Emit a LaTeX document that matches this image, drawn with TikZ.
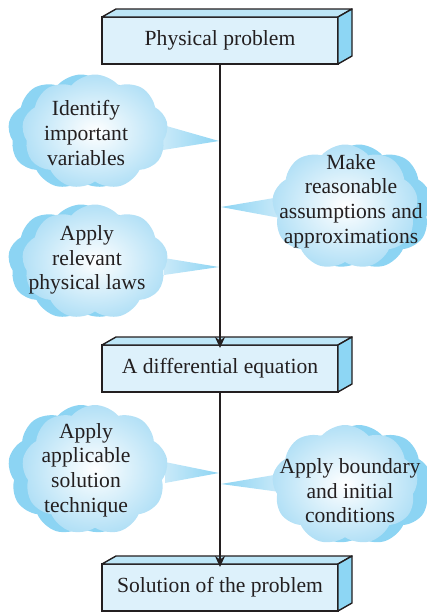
\documentclass[tikz,border=0pt]{standalone}
\usepackage{fontspec}
\setmainfont{Liberation Serif}
\usepackage{tikz}
\usetikzlibrary{arrows.meta, positioning, shapes.symbols, calc, backgrounds}

\definecolor{frontblue}{HTML}{DDF1FB}
\definecolor{topblue}{HTML}{BDE6F7}
\definecolor{sideblue}{HTML}{8DD6F4}
\definecolor{cloudblue}{HTML}{B2E0F6}
\definecolor{shadeblue}{HTML}{8CD4F3}
\definecolor{ink}{HTML}{231F20}

\tikzset{
  stage/.style={draw=ink, line width=0.7pt, fill=frontblue, minimum width=118pt,
    minimum height=23.5pt, inner sep=0pt, outer sep=0pt, text=ink,
    font=\fontsize{10.8}{12.3}\selectfont},
  face/.style={draw=ink, line width=0.7pt, line join=round},
  puff/.style={cloud, cloud puffs=9, cloud puff arc=100, cloud ignores aspect,
    minimum width=73pt, inner sep=0pt},
  cloudbody/.style={puff, inner color=white, outer color=cloudblue},
  cloudback/.style={puff, fill=shadeblue},
  note/.style={align=center, text=ink, font=\fontsize{10.8}{12.3}\selectfont},
  tailleft/.style={left color=cloudblue!70!white, right color=shadeblue},
  tailright/.style={left color=shadeblue, right color=cloudblue!70!white},
  flow/.style={-{Stealth[length=5.5pt,width=5pt]}, line width=1.1pt, draw=ink}
}

\begin{document}
\begin{tikzpicture}[x=0.5pt, y=-0.5pt]
\useasboundingbox (0,0) rectangle (427,612);

% the three stages
\node[stage] (p1) at (220,40.5) {Physical problem};
\node[stage] (p2) at (220,368.5) {A differential equation};
\node[stage] (p3) at (220,587.5) {Solution of the problem};
\foreach \b in {p1,p2,p3} {
  \filldraw[face, fill=topblue] (\b.north west) -- ++(14,-8) -- ++(236,0) -- (\b.north east) -- cycle;
  \filldraw[face, fill=sideblue] (\b.north east) -- ++(14,-8) -- ++(0,47) -- (\b.south east) -- cycle;
}
\draw[flow, shorten >=-1.5pt] (p1.south) -- (p2.north);
\draw[flow, shorten >=-1.5pt] (p2.south) -- (p3.north);

% clouds on the left
\node[cloudback, minimum height=57.5pt] (s1) at (81,132) {};
\node[cloudbody, minimum height=57.5pt] (c1) at (95,132) {};
\node[cloudback, minimum height=57.5pt] (s3) at (81,262) {};
\node[cloudbody, minimum height=57.5pt] (c3) at (95,262) {};
\node[cloudback, minimum height=65pt] (s4) at (81,470) {};
\node[cloudbody, minimum height=65pt] (c4) at (95,470) {};

% clouds on the right
\node[cloudback, minimum height=62.5pt] (s2) at (359,207) {};
\node[cloudbody, minimum height=62.5pt] (c2) at (345,207) {};
\node[cloudback, minimum height=60pt] (s5) at (359,485) {};
\node[cloudbody, minimum height=60pt] (c5) at (345,485) {};

% tails to the line
\coordinate (k1) at (219,141);
\coordinate (k3) at (219,267);
\coordinate (k4) at (219,473);
\coordinate (k2) at (221,207);
\coordinate (k5) at (221,484);
\begin{scope}[on background layer]
\shade[tailleft] (k1) -- ($(c1.center)+(68,-7)$) -- ($(c1.center)+(68,18)$) -- cycle;
\shade[tailleft] (k3) -- ($(c3.center)+(69,-4)$) -- ($(c3.center)+(69,13)$) -- cycle;
\shade[tailleft] (k4) -- ($(c4.center)+(70,-8)$) -- ($(c4.center)+(70,13)$) -- cycle;
\shade[tailright] (k2) -- ($(c2.center)+(-65,-10)$) -- ($(c2.center)+(-65,11)$) -- cycle;
\shade[tailright] (k5) -- ($(c5.center)+(-65,-11)$) -- ($(c5.center)+(-65,7)$) -- cycle;
\end{scope}

% texts
\node[note] (t1) at (86,133) {Identify\\important\\variables};
\node[note] (t3) at (87,260) {Apply\\relevant\\physical laws};
\node[note] (t4) at (86,470) {Apply\\applicable\\solution\\technique};
\node[note] (t2) at (351,201) {Make\\reasonable\\assumptions and\\approximations};
\node[note] (t5) at (350,491) {Apply boundary\\and initial\\conditions};
\end{tikzpicture}
\end{document}
